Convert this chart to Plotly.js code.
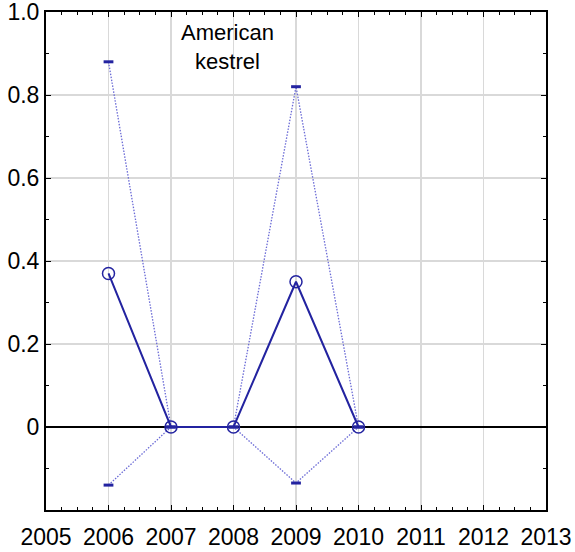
<!DOCTYPE html>
<html>
<head>
<meta charset="utf-8">
<script src="https://cdn.plot.ly/plotly-3.0.1.min.js"></script>
<style>html,body{margin:0;padding:0;background:#fff;}#chart{width:575px;height:552px;}</style>
</head>
<body>
<div id="chart"></div>
<script>
var years = [2006, 2007, 2008, 2009, 2010];
var meanValues = [0.37, 0, 0, 0.35, 0];
var upperValues = [0.88, 0, 0, 0.82, 0];
var lowerValues = [-0.14, 0, 0, -0.135, 0];
var xTickVals = [2005, 2006, 2007, 2008, 2009, 2010, 2011, 2012, 2013];
var yTickVals = [0, 0.2, 0.4, 0.6, 0.8, 1.0];
var yTickText = ['0', '0.2', '0.4', '0.6', '0.8', '1.0'];
var labelText = 'American<br>kestrel';

var dark = '#2323a0';
var light = '#6b6bd6';

var traces = [
  {x: years, y: upperValues, mode: 'lines+markers', type: 'scatter',
   line: {color: light, width: 1.3, dash: '1.5px,1.5px'},
   marker: {symbol: 'line-ew', size: 7, line: {color: dark, width: 3}}, hoverinfo: 'skip'},
  {x: years, y: lowerValues, mode: 'lines+markers', type: 'scatter',
   line: {color: light, width: 1.3, dash: '1.5px,1.5px'},
   marker: {symbol: 'line-ew', size: 7, line: {color: dark, width: 3}}, hoverinfo: 'skip'},
  {x: years, y: meanValues, mode: 'lines+markers', type: 'scatter',
   line: {color: dark, width: 2},
   marker: {symbol: 'circle-open', size: 12, color: dark, line: {color: dark, width: 1.5}}}
];

var layout = {
  width: 575, height: 552,
  margin: {l: 46, r: 29, t: 12, b: 42},
  showlegend: false,
  paper_bgcolor: '#fff', plot_bgcolor: '#fff',
  font: {family: 'Liberation Sans, Arial, sans-serif', size: 23, color: '#000'},
  xaxis: {
    range: [2005, 2013], tickvals: xTickVals, ticktext: xTickVals.map(String),
    showgrid: true, gridcolor: '#d9d9d9', gridwidth: 1.5,
    zeroline: false, showline: true, linecolor: '#000', linewidth: 2, mirror: 'ticks',
    ticks: 'inside', ticklen: 5, tickcolor: '#000', tickwidth: 1,
    ticklabelstandoff: 5, ticklabeloverflow: 'allow',
    minor: {dtick: 0.25, tick0: 2005, ticks: 'inside', ticklen: 3, tickcolor: '#000', showgrid: false},
    tickfont: {size: 23}
  },
  yaxis: {
    range: [-0.2, 1.0], tickvals: yTickVals, ticktext: yTickText,
    showgrid: true, gridcolor: '#d9d9d9', gridwidth: 1.5,
    zeroline: true, zerolinecolor: '#000', zerolinewidth: 2,
    showline: true, linecolor: '#000', linewidth: 2, mirror: 'ticks',
    ticks: 'inside', ticklen: 5, tickcolor: '#000', tickwidth: 1,
    ticklabeloverflow: 'allow',
    minor: {dtick: 0.1, tick0: 0, ticks: 'inside', ticklen: 3, tickcolor: '#000', showgrid: false},
    tickfont: {size: 23}
  },
  annotations: [{
    text: labelText, xref: 'paper', yref: 'paper', x: 0.362, y: 1.0,
    xanchor: 'center', yanchor: 'top', yshift: -6, showarrow: false,
    font: {size: 22, color: '#000'}, align: 'center'
  }]
};

Plotly.newPlot('chart', traces, layout, {displayModeBar: false, staticPlot: true});
</script>
</body>
</html>
